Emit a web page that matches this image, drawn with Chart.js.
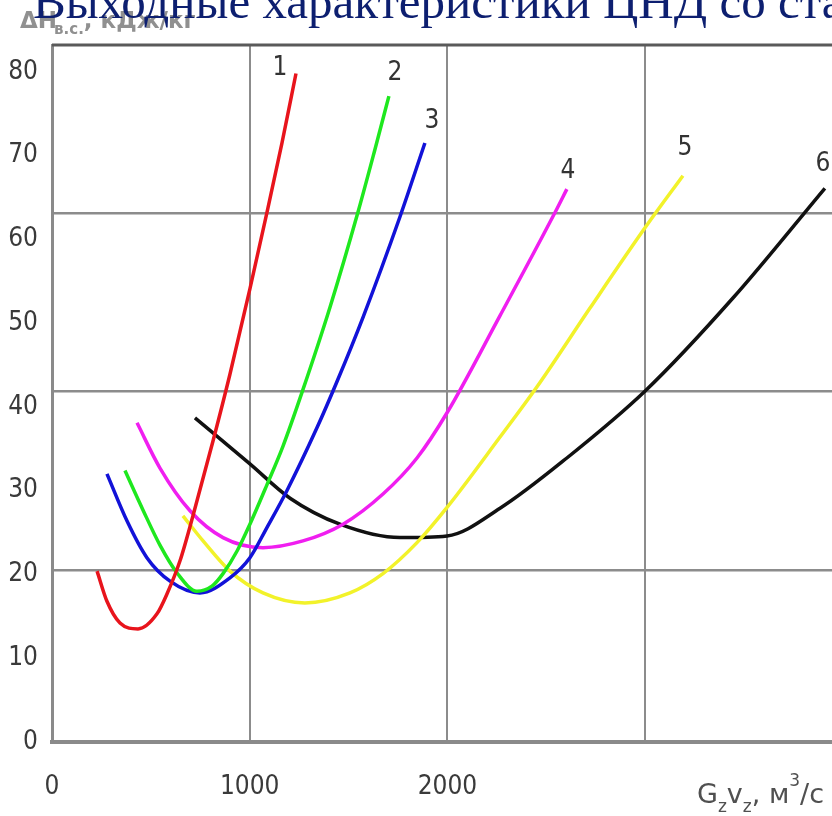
<!DOCTYPE html>
<html>
<head>
<meta charset="utf-8">
<script src="https://cdn.jsdelivr.net/npm/chart.js@4.4.1/dist/chart.umd.min.js"></script>
<style>
    body { margin: 0; background: #fff; }
    canvas { display: block; }
</style>
</head>
<body>
<canvas id="chart" width="832" height="816"></canvas>
<script>
// Расход G·v, м3/с и потери ΔH, кДж/кг для кривых 1..6
const flow1 = [228, 278, 344, 435, 531, 582, 647, 713, 814, 900, 1001, 1087, 1163, 1234];
const head1 = [20.4, 16.8, 14.2, 13.5, 15.3, 17.7, 21.6, 27.0, 35.9, 43.9, 54.1, 63.2, 71.5, 79.8];

const flow2 = [369, 460, 546, 632, 733, 809, 865, 936, 1001, 1087, 1168, 1264, 1406, 1547, 1633, 1704];
const head2 = [32.4, 27.7, 23.5, 20.2, 18.0, 18.6, 20.1, 22.8, 26.0, 30.7, 35.3, 41.7, 51.9, 63.2, 70.7, 77.1];

const flow3 = [278, 379, 480, 597, 748, 900, 1001, 1087, 1188, 1340, 1441, 1573, 1760, 1886];
const head3 = [32.0, 26.4, 22.0, 19.2, 17.8, 19.6, 22.0, 25.6, 30.0, 37.5, 43.0, 50.7, 62.7, 71.5];

const flow4 = [430, 546, 698, 865, 1067, 1269, 1472, 1674, 1846, 1998, 2266, 2544, 2604];
const head4 = [38.1, 32.7, 27.6, 24.4, 23.2, 24.0, 26.0, 29.6, 33.9, 39.3, 50.9, 63.2, 66.0];

const flow5 = [662, 764, 900, 1067, 1279, 1507, 1674, 1846, 1998, 2266, 2453, 2721, 3009, 3191];
const head5 = [27.0, 24.0, 20.4, 17.8, 16.6, 17.8, 20.1, 23.8, 28.0, 36.4, 42.4, 51.8, 61.7, 67.6];

const flow6 = [723, 1001, 1204, 1456, 1760, 1998, 2266, 2604, 3000, 3444, 3909];
const head6 = [38.7, 33.2, 29.1, 26.0, 24.4, 24.6, 27.9, 33.9, 41.9, 53.0, 66.1];

const curveNames = ['1', '2', '3', '4', '5', '6'];
const xTicks = [0, 1000, 2000];
const yTicks = [0, 10, 20, 30, 40, 50, 60, 70, 80];

const flows = [flow1, flow2, flow3, flow4, flow5, flow6];
const heads = [head1, head2, head3, head4, head5, head6];
const colors = ['#e8141c', '#1ee81e', '#1212d8', '#f01ef0', '#f2f22a', '#111111'];
// смещения подписей от конца кривой, px
const labelShift = [[-16, -5], [6, -23], [7, -22], [1, -18], [2, -27], [-2, -24]];

const tickFont = { family: '"DejaVu Sans Condensed", "DejaVu Sans"', size: 26 };
const gridGray = '#8c8c8c';

const datasets = flows.map((f, i) => ({
    label: curveNames[i],
    data: f.map((x, k) => ({ x: x, y: heads[i][k] })),
    borderColor: colors[i],
    borderWidth: 3.5,
    pointRadius: 0,
    fill: false,
    cubicInterpolationMode: 'monotone',
    xAxisID: 'x',
    yAxisID: 'y'
}));

const decorations = {
    id: 'decorations',
    afterDraw(chart) {
        const ctx = chart.ctx;
        const area = chart.chartArea;
        const sx = chart.scales.x;
        const sy = chart.scales.y;
        ctx.save();

        // верхняя рамка
        ctx.strokeStyle = '#5a5a5a';
        ctx.lineWidth = 3;
        ctx.beginPath();
        ctx.moveTo(area.left, area.top);
        ctx.lineTo(area.right, area.top);
        ctx.stroke();

        // номера кривых
        ctx.fillStyle = '#333';
        ctx.font = '26px "DejaVu Sans Condensed", "DejaVu Sans"';
        ctx.textAlign = 'center';
        ctx.textBaseline = 'middle';
        flows.forEach((f, i) => {
            const last = f.length - 1;
            const px = sx.getPixelForValue(f[last]) + labelShift[i][0];
            const py = sy.getPixelForValue(heads[i][last]) + labelShift[i][1];
            ctx.fillText(curveNames[i], px, py);
        });

        // подпись оси Y
        ctx.textAlign = 'left';
        ctx.textBaseline = 'alphabetic';
        ctx.fillStyle = '#909090';
        let x = 20;
        ctx.font = 'bold 23px "DejaVu Sans"';
        ctx.fillText('ΔH', x, 28);
        x += ctx.measureText('ΔH').width - 4;
        ctx.font = 'bold 15px "DejaVu Sans"';
        ctx.fillText('в.с.', x + 1, 34);
        x += ctx.measureText('в.с.').width + 1;
        ctx.font = 'bold 23px "DejaVu Sans"';
        ctx.fillText(', кДж/кг', x, 28);

        // подпись оси X
        ctx.fillStyle = '#505050';
        x = 697;
        const big = '27px "DejaVu Sans"';
        const small = '17px "DejaVu Sans"';
        const parts = [['G', big, 803], ['z', small, 812], ['v', big, 803], ['z', small, 812],
                       [', м', big, 803], ['3', small, 786], ['/с', big, 803]];
        parts.forEach(p => {
            ctx.font = p[1];
            ctx.fillText(p[0], x, p[2]);
            x += ctx.measureText(p[0]).width;
        });

        // заголовок
        ctx.fillStyle = '#0d1f70';
        ctx.font = '49px "Liberation Serif", "Times New Roman", serif';
        ctx.fillText('Выходные характеристики ЦНД со ста', 33, 18);

        ctx.restore();
    }
};

new Chart(document.getElementById('chart'), {
    type: 'line',
    data: { datasets: datasets },
    options: {
        responsive: false,
        animation: false,
        layout: { padding: { top: 45, left: 0, right: 0, bottom: 0 } },
        plugins: { legend: { display: false }, tooltip: { enabled: false } },
        scales: {
            x: {
                type: 'linear',
                position: 'bottom',
                min: 0,
                max: 3945,
                afterBuildTicks: s => { s.ticks = [0, 1000, 2000, 3000].map(v => ({ value: v })); },
                afterFit: s => { s.height = 74; },
                ticks: {
                    autoSkip: false,
                    maxRotation: 0,
                    padding: 30,
                    font: tickFont,
                    color: '#3a3a3a',
                    callback: v => xTicks.includes(v) ? String(v) : ''
                },
                grid: { color: gridGray, lineWidth: 2, drawTicks: false },
                border: { display: true, color: '#8a8a8a', width: 4 }
            },
            y: {
                type: 'linear',
                position: 'left',
                min: 0,
                max: 83.2,
                afterBuildTicks: s => { s.ticks = yTicks.map(v => ({ value: v })); },
                afterFit: s => { s.width = 52; },
                ticks: {
                    autoSkip: false,
                    padding: 6,
                    font: tickFont,
                    color: '#3a3a3a'
                },
                grid: { display: false },
                border: { display: true, color: '#8a8a8a', width: 3 }
            },
            yg: {
                type: 'linear',
                position: 'left',
                min: 0.73,
                max: 78.82,
                afterBuildTicks: s => { s.ticks = [20, 40, 60].map(v => ({ value: v })); },
                afterFit: s => { s.width = 0; },
                ticks: { display: false },
                grid: { color: gridGray, lineWidth: 2.5, drawTicks: false },
                border: { display: false }
            }
        }
    },
    plugins: [decorations]
});
</script>
</body>
</html>
